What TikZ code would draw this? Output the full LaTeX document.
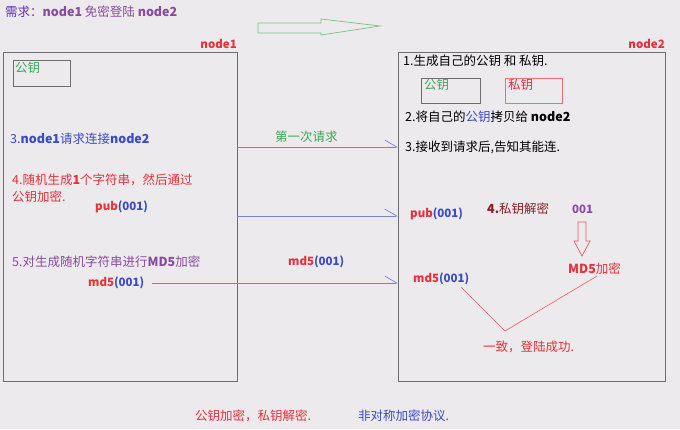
\documentclass[tikz,border=0pt]{standalone}
\usepackage{fontspec}
\setmainfont{Noto Sans CJK SC}
\usetikzlibrary{arrows.meta}
\definecolor{bg}{HTML}{ECEAEC}
\definecolor{pur}{HTML}{8A4AA0}
\definecolor{rd}{HTML}{E8303A}
\definecolor{bl}{HTML}{3A4AC8}
\definecolor{gr}{HTML}{3AAA55}
\definecolor{drd}{HTML}{8B1E22}
\definecolor{bx}{HTML}{6E6E6E}
\definecolor{ln}{HTML}{7A80D8}
\tikzset{
 txt/.style={anchor=west,inner sep=0pt,font=\fontsize{12.5}{14}\selectfont},
 lbl/.style={txt,font=\fontsize{11.5}{14}\selectfont\bfseries},
 panel/.style={draw=bx,line width=1pt},
 keybox/.style={draw=bx,line width=0.9pt},
 conn/.style={draw=ln,line width=0.7pt,-{Straight Barb[left,length=12pt,width=14pt]}},
 redln/.style={draw=rd!80,line width=0.6pt}
}
\begin{document}
\begin{tikzpicture}[x=1pt,y=-1pt]
\fill[bg] (0,0) rectangle (680,429);
\useasboundingbox (0,0) rectangle (680,429);
\node[txt] (title) at (5,12) {\color{pur!70!blue}需求：\color{pur}\textbf{node1} 免密登陆 \textbf{node2}};
\draw[gr!70,line width=0.7pt] (258,23) -- (321,23) -- (321,19) -- (380,26) -- (321,35) -- (321,33) -- (258,33) -- cycle;
% node1
\node[panel,minimum width=234pt,minimum height=329pt,inner sep=0pt] (n1) at (120,216.5) {};
\node[lbl,anchor=east,text=rd] (n1l) at (237,44) {node1};
\node[keybox,minimum width=57pt,minimum height=26pt,inner sep=0pt] (k1) at (41.5,73) {};
\node[txt,text=gr] (k1t) at (15,68) {公钥};
\node[txt,text=bl] (s3) at (10,139) {3.\textbf{node1}请求连接\textbf{node2}};
\node[txt,text=rd] (s4a) at (12,180) {4.随机生成\textbf{1}个字符串，然后通过};
\node[txt,text=rd] (s4b) at (12,197) {公钥加密.};
\node[lbl] (p1) at (95,207) {\color{rd}pub\color{bl}(001)};
\node[txt,text=pur] (s5) at (12,262) {5.对生成随机字符串进行\textbf{MD5}加密};
\node[lbl] (m1) at (88,283) {\color{rd}md5\color{bl}(001)};
% node2
\node[panel,minimum width=267pt,minimum height=329pt,inner sep=0pt] (n2) at (531.5,216.5) {};
\node[lbl,anchor=east,text=rd] (n2l) at (665,44) {node2};
\node[txt] (t1) at (403,61) {1.生成自己的公钥\ 和\ 私钥.};
\node[keybox,minimum width=59pt,minimum height=25pt,inner sep=0pt] (k2) at (450.5,90.5) {};
\node[txt,text=gr] (k2t) at (424,85) {公钥};
\node[draw=rd!70,line width=0.7pt,minimum width=57pt,minimum height=25pt,inner sep=0pt] (k3) at (533.5,90.5) {};
\node[txt,text=rd] (k3t) at (508,85) {私钥};
\node[txt] (t2) at (405,117) {2.将自己的\textcolor{bl}{公钥}拷贝给 \textbf{node2}};
\node[txt] (t3) at (405,147) {3.接收到请求后,告知其能连.};
\node[lbl] (p2) at (410,214) {\color{rd}pub\color{bl}(001)};
\node[txt,text=drd] (t4) at (487,209) {\textbf{4.}私钥解密};
\node[lbl,text=pur] (o1) at (572,209) {001};
\draw[rd!80,line width=0.7pt,fill=bg] (578,222) -- (586,222) -- (586,241) -- (590,241) -- (582,256) -- (574,241) -- (578,241) -- cycle;
\node[txt,text=rd] (md5e) at (568,269) {\textbf{MD5}加密};
\node[lbl] (m2) at (413,279) {\color{rd}md5\color{bl}(001)};
\coordinate (v) at (505,331);
\draw[redln] (461,287) -- (v) -- (597,276);
\node[txt,text=rd] (ok) at (483,347) {一致，登陆成功.};
% connectors
\coordinate (a1) at (237,147); \coordinate (b1) at (398,147);
\draw[conn] (a1) -- (b1);
\node[txt,text=gr] (c1) at (275,137) {第一次请求};
\coordinate (a2) at (237,216); \coordinate (b2) at (398,216);
\draw[conn] (a2) -- (b2);
\coordinate (a3) at (152,283); \coordinate (b3) at (398,283);
\draw[conn] (a3) -- (b3);
\node[lbl] (m3) at (288,262) {\color{rd}md5\color{bl}(001)};
\node[txt,text=rd] (f1) at (195,416) {公钥加密，私钥解密.};
\node[txt,text=bl] (f2) at (358,416) {非对称加密协议.};
\end{tikzpicture}
\end{document}
